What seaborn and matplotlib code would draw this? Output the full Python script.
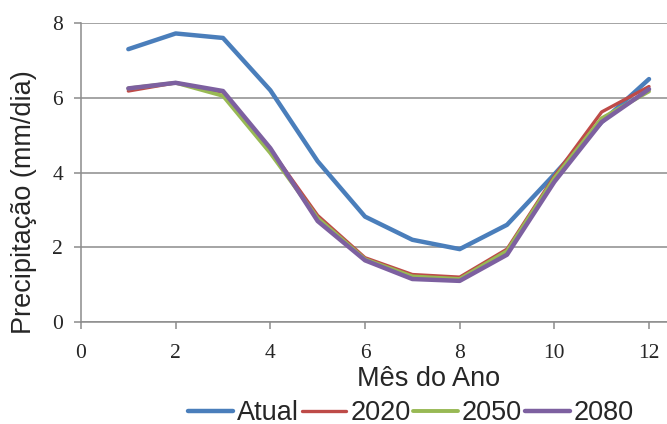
import matplotlib
matplotlib.use("Agg")
import matplotlib.pyplot as plt
import seaborn as sns
import pandas as pd

months = list(range(1, 13))
atual = [7.3, 7.72, 7.6, 6.2, 4.3, 2.82, 2.2, 1.95, 2.6, 3.95, 5.35, 6.5]
s2020 = [6.18, 6.4, 6.15, 4.62, 2.85, 1.72, 1.27, 1.2, 1.95, 3.9, 5.62, 6.3]
s2050 = [6.25, 6.4, 6.05, 4.52, 2.78, 1.68, 1.22, 1.15, 1.9, 3.85, 5.45, 6.17]
s2080 = [6.25, 6.4, 6.18, 4.65, 2.7, 1.65, 1.15, 1.1, 1.8, 3.75, 5.35, 6.23]
series_names = ["Atual", "2020", "2050", "2080"]
colors = ["#4A7EBB", "#BE4B48", "#98B954", "#7D60A0"]
widths = [3.2, 2.4, 2.8, 3.2]

rows = []
for name, vals in zip(series_names, [atual, s2020, s2050, s2080]):
    for m, v in zip(months, vals):
        rows.append({"Mês": m, "Valor": v, "Série": name})
df = pd.DataFrame(rows)

sns.set_theme(style="white")
plt.rcParams['font.family'] = ['Liberation Sans', 'DejaVu Sans']

fig = plt.figure(figsize=(6.67, 4.24), dpi=100)
ax = fig.add_axes([81/667, 1-322/424, 1-81/667, 299/424])

for name, col, lw in zip(series_names, colors, widths):
    sub = df[df["Série"] == name]
    sns.lineplot(data=sub, x="Mês", y="Valor", color=col, linewidth=lw,
                 label=name, ax=ax, legend=False, solid_capstyle="round",
                 solid_joinstyle="round")

ax.set_xlim(0, 12.38)
ax.set_ylim(0, 8)
ax.set_xticks(range(0, 13, 2))
ax.set_yticks(range(0, 9, 2))
ax.yaxis.grid(True, color="#8C8C8C", linewidth=1.1)
ax.xaxis.grid(False)
ax.set_axisbelow(True)
for s in ["top", "right"]:
    ax.spines[s].set_visible(False)
for s in ["left", "bottom"]:
    ax.spines[s].set_color("#8C8C8C")
    ax.spines[s].set_linewidth(1.1)
ax.tick_params(axis="both", direction="out", length=5, width=1.1, color="#8C8C8C",
               bottom=True, left=True, labelsize=15.5)
ax.tick_params(axis="x", pad=11)
ax.tick_params(axis="y", pad=8)
for lab in ax.get_xticklabels() + ax.get_yticklabels():
    lab.set_family(['Liberation Serif', 'DejaVu Serif'])

ax.set_xlabel("Mês do Ano", fontsize=19.5)
ax.set_ylabel("Precipitação (mm/dia)", fontsize=19.5)
ax.xaxis.set_label_coords((429-81)/586, (322-366)/299)
ax.yaxis.set_label_coords((37-81)/586, (322-202)/299)

handles, labels = ax.get_legend_handles_labels()
fig.legend(handles, labels, loc="center", bbox_to_anchor=(411/667, 1-413/424),
           ncol=4, frameon=False, fontsize=19.5, handlelength=1.65,
           handletextpad=0.15, columnspacing=0.1, borderaxespad=0, borderpad=0)

fig.savefig("out.png", dpi=100)
